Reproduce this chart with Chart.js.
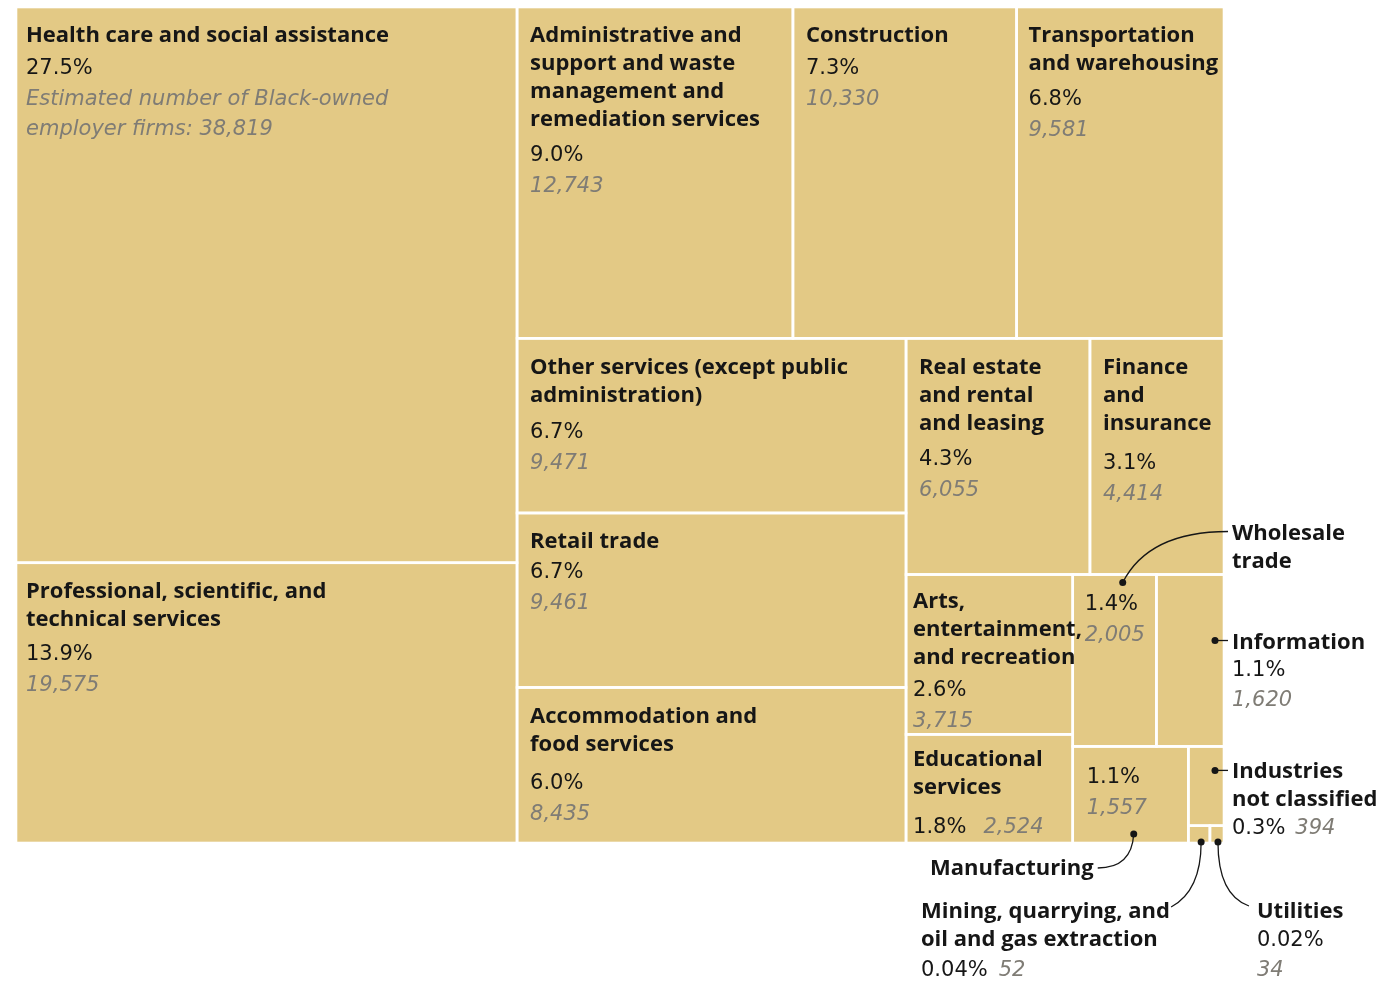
<!DOCTYPE html>
<html><head><meta charset="utf-8">
<script src="https://cdn.jsdelivr.net/npm/chart.js@4"></script>
<style>html,body{margin:0;padding:0;background:#fff}#wrap{width:1381px;height:985px;position:relative}</style>
</head><body><div id="wrap"><canvas id="c"></canvas></div>
<script>
// ---- data ----
const industries = ['Health care and social assistance','Professional, scientific, and technical services','Administrative and support and waste management and remediation services','Construction','Transportation and warehousing','Other services (except public administration)','Retail trade','Accommodation and food services','Real estate and rental and leasing','Finance and insurance','Arts, entertainment, and recreation','Educational services','Wholesale trade','Information','Manufacturing','Industries not classified','Mining, quarrying, and oil and gas extraction','Utilities'];
const firms = [38819,19575,12743,10330,9581,9471,9461,8435,6055,4414,3715,2524,2005,1620,1557,394,52,34];
const shareLabels = ['27.5%','13.9%','9.0%','7.3%','6.8%','6.7%','6.7%','6.0%','4.3%','3.1%','2.6%','1.8%','1.4%','1.1%','1.1%','0.3%','0.04%','0.02%'];
const titleLines = [
 ['Health care and social assistance'],
 ['Professional, scientific, and','technical services'],
 ['Administrative and','support and waste','management and','remediation services'],
 ['Construction'],
 ['Transportation','and warehousing'],
 ['Other services (except public','administration)'],
 ['Retail trade'],
 ['Accommodation and','food services'],
 ['Real estate','and rental','and leasing'],
 ['Finance','and','insurance'],
 ['Arts,','entertainment,','and recreation'],
 ['Educational','services'],
 ['Wholesale','trade'],
 ['Information'],
 ['Manufacturing'],
 ['Industries','not classified'],
 ['Mining, quarrying, and','oil and gas extraction'],
 ['Utilities']
];
const firstNote = ['Estimated number of Black-owned','employer firms: '];

// ---- styles ----
const FILL = '#e3c985', INK = '#161616', GREY = '#7f7c75';
const fBold = 'bold 22px "Open Sans", "Noto Sans", sans-serif';
const fReg = 'normal 21px "DejaVu Sans", sans-serif';
const fIt = 'oblique 21px "DejaVu Sans", sans-serif';
const fmt = v => v.toLocaleString('en-US');

// squarified treemap layout (aspect-ratio target 1.75)
function squarify(values, x0, y0, x1, y1) {
  const ratio = 1.75, n = values.length, rects = new Array(n);
  let value = values.reduce((a, b) => a + b, 0), i0 = 0, i1 = 0;
  while (i0 < n) {
    const dx = x1 - x0, dy = y1 - y0;
    let sum = values[i1++], minV = sum, maxV = sum;
    const alpha = Math.max(dy / dx, dx / dy) / (value * ratio);
    let beta = sum * sum * alpha, minRatio = Math.max(maxV / beta, beta / minV);
    for (; i1 < n; ++i1) {
      const v = values[i1]; sum += v;
      if (v < minV) minV = v; if (v > maxV) maxV = v;
      beta = sum * sum * alpha;
      const r = Math.max(maxV / beta, beta / minV);
      if (r > minRatio) { sum -= v; break; }
      minRatio = r;
    }
    if (dx < dy) {
      const ny = y0 + dy * sum / value; let x = x0;
      for (let i = i0; i < i1; i++) { const w = dx * values[i] / sum; rects[i] = {x0: x, y0: y0, x1: x + w, y1: ny}; x += w; }
      y0 = ny;
    } else {
      const nx = x0 + dx * sum / value; let y = y0;
      for (let i = i0; i < i1; i++) { const h = dy * values[i] / sum; rects[i] = {x0: x0, y0: y, x1: nx, y1: y + h}; y += h; }
      x0 = nx;
    }
    value -= sum; i0 = i1;
  }
  return rects;
}

function txt(ctx, t, x, y, font, color, align) {
  ctx.font = font; ctx.fillStyle = color; ctx.textAlign = align || 'left'; ctx.fillText(t, x, y + 2);
  return ctx.measureText(t).width;
}
function dot(ctx, x, y) { ctx.beginPath(); ctx.arc(x, y, 3.5, 0, Math.PI * 2); ctx.fillStyle = INK; ctx.fill(); }
function curve(ctx, x0, y0, cx, cy, x1, y1) {
  ctx.beginPath(); ctx.moveTo(x0, y0); ctx.quadraticCurveTo(cx, cy, x1, y1);
  ctx.strokeStyle = INK; ctx.lineWidth = 1.3; ctx.stroke();
}

const treemapPlugin = {
  id: 'treemap',
  afterDatasetsDraw(chart) {
    const {ctx, chartArea: a, scales: {x: sx, y: sy}} = chart;
    const aspect = (a.right - a.left) / (a.bottom - a.top);
    const raw = squarify(firms, 0, 0, aspect, 1);
    // map normalized layout through the chart's scales
    const R = raw.map(r => ({
      x0: sx.getPixelForValue(r.x0 / aspect), x1: sx.getPixelForValue(r.x1 / aspect),
      y0: sy.getPixelForValue(r.y0), y1: sy.getPixelForValue(r.y1)
    }));
    ctx.save();
    R.forEach(r => {
      ctx.fillStyle = FILL; ctx.fillRect(r.x0, r.y0, r.x1 - r.x0, r.y1 - r.y0);
    });
    ctx.strokeStyle = '#ffffff'; ctx.lineWidth = 2.6;
    R.forEach(r => ctx.strokeRect(r.x0, r.y0, r.x1 - r.x0, r.y1 - r.y0));

    ctx.textBaseline = 'middle';
    const padX = {0: 10, 1: 10, 10: 7, 11: 7, 4: 12, 12: 12, 14: 14};
    const topY = {10: 25, 11: 23};
    const pctGap = {0: 33, 3: 33, 6: 31, 7: 39, 9: 40, 10: 33, 11: 40, 4: 36, 2: 36, 8: 36, 5: 37};
    // inside labels
    for (let i = 0; i <= 11; i++) {
      const r = R[i];
      const x = r.x0 + (padX[i] ?? 13);
      let y = r.y0 + (topY[i] ?? 27);
      titleLines[i].forEach((t, k) => { if (k) y += 28; txt(ctx, t, x, y, fBold, INK); });
      y += pctGap[i] ?? 35;
      const w = txt(ctx, shareLabels[i], x, y, fReg, INK);
      if (i === 11) { txt(ctx, fmt(firms[i]), x + w + 17, y, fIt, GREY); continue; }
      y += 31;
      if (i === 0) {
        txt(ctx, firstNote[0], x, y, fIt, GREY);
        txt(ctx, firstNote[1] + fmt(firms[i]), x, y + 30, fIt, GREY);
      } else txt(ctx, fmt(firms[i]), x, y, fIt, GREY);
    }
    const L = a.right + 8;
    // Wholesale (value inside, name outside)
    {
      const r = R[12];
      txt(ctx, shareLabels[12], r.x0 + 12, r.y0 + 28, fReg, INK);
      txt(ctx, fmt(firms[12]), r.x0 + 12, r.y0 + 59, fIt, GREY);
      const dxp = r.x0 + 50, dyp = r.y0 + 8;
      curve(ctx, dxp, dyp, dxp + 26, r.y0 - 43, L - 4, r.y0 - 43);
      dot(ctx, dxp, dyp);
      txt(ctx, titleLines[12][0], L, r.y0 - 43, fBold, INK);
      txt(ctx, titleLines[12][1], L, r.y0 - 15, fBold, INK);
    }
    // Information
    {
      const r = R[13]; const dy = r.y0 + 66;
      curve(ctx, r.x1 - 9, dy, r.x1 - 2, dy, L - 4, dy); dot(ctx, r.x1 - 9, dy);
      txt(ctx, titleLines[13][0], L, dy, fBold, INK);
      txt(ctx, shareLabels[13], L, dy + 28, fReg, INK);
      txt(ctx, fmt(firms[13]), L, dy + 58, fIt, GREY);
    }
    // Manufacturing
    {
      const r = R[14];
      txt(ctx, shareLabels[14], r.x0 + 14, r.y0 + 29, fReg, INK);
      txt(ctx, fmt(firms[14]), r.x0 + 14, r.y0 + 60, fIt, GREY);
      const dxp = r.x0 + 61, dyp = r.y1 - 9;
      curve(ctx, dxp, dyp, dxp - 2, a.bottom + 25, dxp - 36, a.bottom + 25);
      dot(ctx, dxp, dyp);
      txt(ctx, titleLines[14][0], dxp - 40, a.bottom + 24, fBold, INK, 'right');
    }
    // Industries not classified
    {
      const r = R[15]; const dy = r.y0 + 24;
      curve(ctx, r.x1 - 9, dy, r.x1 - 2, dy, L - 4, dy); dot(ctx, r.x1 - 9, dy);
      txt(ctx, titleLines[15][0], L, dy - 1, fBold, INK);
      txt(ctx, titleLines[15][1], L, dy + 27, fBold, INK);
      const w = txt(ctx, shareLabels[15], L, dy + 56, fReg, INK);
      txt(ctx, fmt(firms[15]), L + w + 10, dy + 56, fIt, GREY);
    }
    // Mining
    {
      const r = R[16]; const dxp = (r.x0 + r.x1) / 2 + 2, dyp = r.y1 - 1;
      curve(ctx, dxp, dyp, dxp, a.bottom + 48, dxp - 30, a.bottom + 64);
      dot(ctx, dxp, dyp);
      const lx = a.left + 905;
      txt(ctx, titleLines[16][0], lx, a.bottom + 67, fBold, INK);
      txt(ctx, titleLines[16][1], lx, a.bottom + 95, fBold, INK);
      const w = txt(ctx, shareLabels[16], lx, a.bottom + 126, fReg, INK);
      txt(ctx, fmt(firms[16]), lx + w + 11, a.bottom + 126, fIt, GREY);
    }
    // Utilities
    {
      const r = R[17]; const dxp = (r.x0 + r.x1) / 2 + 1, dyp = r.y1 - 1;
      curve(ctx, dxp, dyp, dxp, a.bottom + 52, dxp + 31, a.bottom + 63);
      dot(ctx, dxp, dyp);
      const lx = dxp + 39;
      txt(ctx, titleLines[17][0], lx, a.bottom + 67, fBold, INK);
      txt(ctx, shareLabels[17], lx, a.bottom + 96, fReg, INK);
      txt(ctx, fmt(firms[17]), lx, a.bottom + 126, fIt, GREY);
    }
    ctx.restore();
  }
};

new Chart(document.getElementById('c'), {
  type: 'scatter',
  data: { labels: industries, datasets: [{ label: 'Black-owned employer firms', data: [], pointRadius: 0 }] },
  options: {
    responsive: true, maintainAspectRatio: false, animation: false,
    devicePixelRatio: 1,
    layout: { padding: { left: 16, right: 157, top: 7, bottom: 142 } },
    scales: {
      x: { type: 'linear', min: 0, max: 1, display: false },
      y: { type: 'linear', min: 0, max: 1, reverse: true, display: false }
    },
    plugins: { legend: { display: false }, tooltip: { enabled: false } }
  },
  plugins: [treemapPlugin]
});
</script>
</body></html>
